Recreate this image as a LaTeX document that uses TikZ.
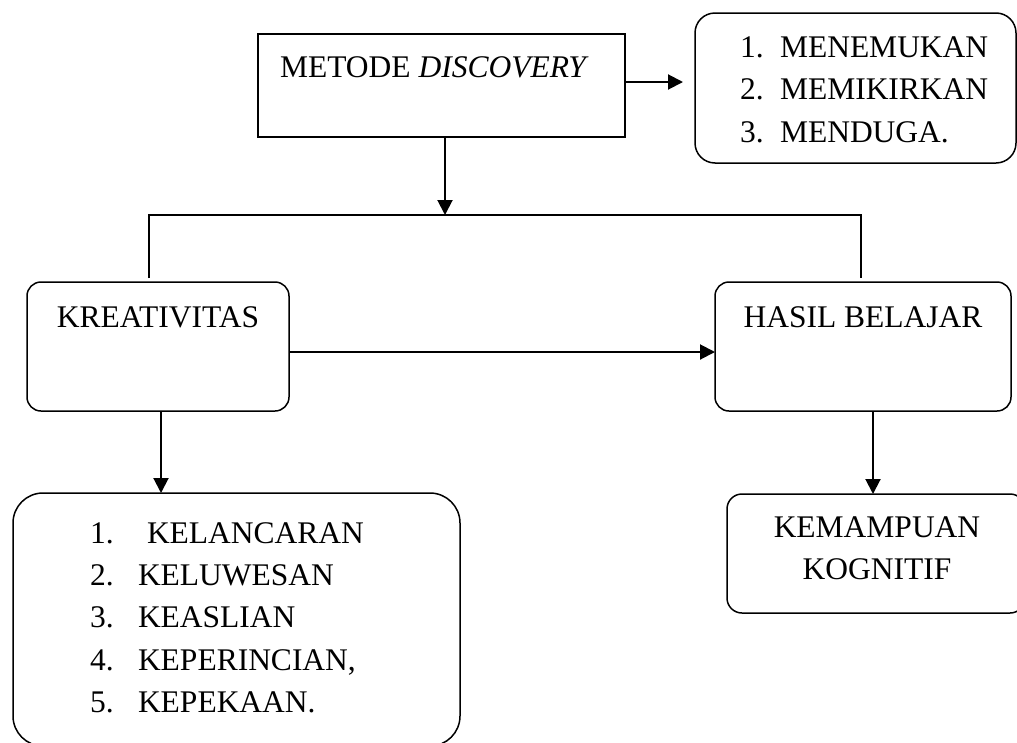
\documentclass[tikz,border=0pt]{standalone}
\usepackage{fontspec}
\setmainfont{Liberation Serif}
\usetikzlibrary{arrows.meta}
\tikzset{
  boxline/.style={draw=black, line width=1.5pt, inner sep=0pt, outer sep=0pt, rectangle},
  rbox/.style={boxline, rounded corners=#1},
  txt/.style={inner sep=0pt, outer sep=0pt, font=\fontsize{31.5}{38}\selectfont},
  arr/.style={line width=2pt, -{Triangle[length=15pt,width=15pt]}},
  wire/.style={line width=1.5pt}
}
\begin{document}
\begin{tikzpicture}[x=1pt,y=1pt]
\useasboundingbox (0,0) rectangle (1017,-742);
\clip (0,0) rectangle (1017,-742);
\fill[white] (0,0) rectangle (1017,-742);

% boxes
\node[boxline, minimum width=367pt, minimum height=103pt] (metode) at (441.5,-85.5) {};
\node[rbox=20pt, minimum width=321pt, minimum height=150pt] (disc) at (855.5,-88) {};
\node[rbox=14pt, minimum width=262pt, minimum height=129pt] (kreat) at (158,-346.5) {};
\node[rbox=14pt, minimum width=296pt, minimum height=129pt] (hasil) at (863,-346.5) {};
\node[rbox=30pt, minimum width=447pt, minimum height=253pt] (indik) at (236.5,-619.5) {};
\node[rbox=15pt, minimum width=298pt, minimum height=119pt] (kog) at (876,-553.5) {};

% texts
\node[txt, anchor=base west] (tmetode) at (280,-77) {METODE \textit{DISCOVERY}};

\node[txt, anchor=base west] (dn1) at (740,-57) {1.};
\node[txt, anchor=base west] (dt1) at (780,-57) {MENEMUKAN};
\node[txt, anchor=base west] (dn2) at (740,-99.5) {2.};
\node[txt, anchor=base west] (dt2) at (780,-99.5) {MEMIKIRKAN};
\node[txt, anchor=base west] (dn3) at (740,-142) {3.};
\node[txt, anchor=base west] (dt3) at (780,-142) {MENDUGA.};

\node[txt, anchor=base] (tkreat) at (158,-327) {KREATIVITAS};
\node[txt, anchor=base] (thasil) at (863,-327) {HASIL BELAJAR};

\node[txt, anchor=base west] (in1) at (90,-543) {1.};
\node[txt, anchor=base west] (it1) at (147,-543) {KELANCARAN};
\node[txt, anchor=base west] (in2) at (90,-585) {2.};
\node[txt, anchor=base west] (it2) at (138,-585) {KELUWESAN};
\node[txt, anchor=base west] (in3) at (90,-627) {3.};
\node[txt, anchor=base west] (it3) at (138,-627) {KEASLIAN};
\node[txt, anchor=base west] (in4) at (90,-670) {4.};
\node[txt, anchor=base west] (it4) at (138,-670) {KEPERINCIAN,};
\node[txt, anchor=base west] (in5) at (90,-712) {5.};
\node[txt, anchor=base west] (it5) at (138,-712) {KEPEKAAN.};

\node[txt, anchor=base] (tkog1) at (877,-537) {KEMAMPUAN};
\node[txt, anchor=base] (tkog2) at (877,-579) {KOGNITIF};

% connectors
\coordinate (bus) at (445,-215);
\coordinate (kl) at (149,-278);
\coordinate (hr) at (861,-278);
\draw[arr, shorten >=12pt] (metode.east |- 0,-82) -- (disc.west |- 0,-82);
\draw[arr] (metode.south -| bus) -- (bus);
\draw[wire] (kl) |- (bus) -| (hr);
\draw[arr] (kreat.east |- 0,-352) -- (hasil.west |- 0,-352);
\draw[arr] (kreat.south -| 161,0) -- (indik.north -| 161,0);
\draw[arr] (hasil.south -| 873,0) -- (kog.north -| 873,0);
\end{tikzpicture}
\end{document}
